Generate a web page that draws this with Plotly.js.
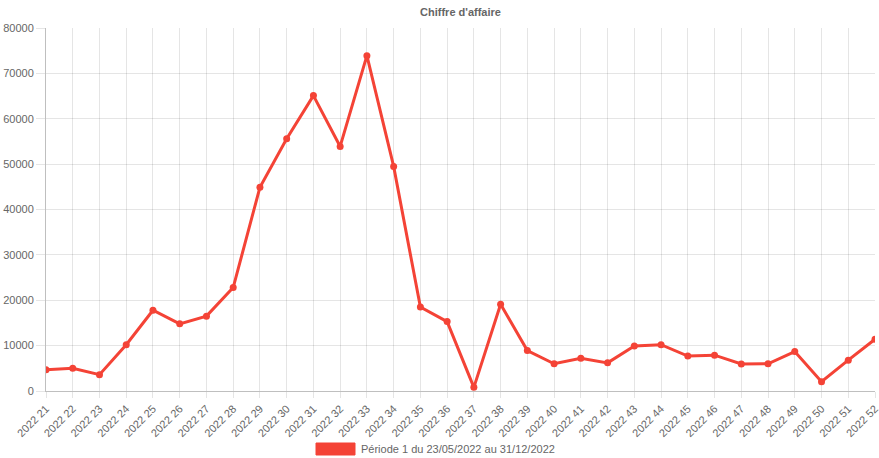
<!DOCTYPE html>
<html>
<head>
<meta charset="utf-8">
<script src="https://cdn.plot.ly/plotly-3.0.1.min.js"></script>
<style>html,body{margin:0;padding:0;background:#fff;}#chart{width:879px;height:458px;}</style>
</head>
<body>
<div id="chart"></div>
<script>
const weeks = ["2022 21","2022 22","2022 23","2022 24","2022 25","2022 26","2022 27","2022 28","2022 29","2022 30","2022 31","2022 32","2022 33","2022 34","2022 35","2022 36","2022 37","2022 38","2022 39","2022 40","2022 41","2022 42","2022 43","2022 44","2022 45","2022 46","2022 47","2022 48","2022 49","2022 50","2022 51","2022 52"];
const chiffreAffaire = [4700,5000,3600,10200,17800,14800,16500,22800,44900,55600,65100,53900,73900,49500,18500,15300,800,19100,8900,6000,7200,6200,9900,10200,7700,7900,5950,6000,8700,2050,6800,11400];
const seriesName = "Période 1 du 23/05/2022 au 31/12/2022";
const chartTitle = "Chiffre d'affaire";

const red = "rgb(244,67,54)";
const grey = "#666";
const fontFamily = "'Liberation Sans', Arial, Helvetica, sans-serif";

const trace = {
  x: weeks,
  y: chiffreAffaire,
  type: "scatter",
  mode: "lines+markers",
  name: seriesName,
  line: {color: red, width: 3},
  marker: {color: red, size: 7},
  showlegend: false,
  hoverinfo: "x+y"
};

const layout = {
  width: 879,
  height: 458,
  margin: {l: 46, r: 4, t: 28, b: 67},
  paper_bgcolor: "#fff",
  plot_bgcolor: "#fff",
  font: {family: fontFamily, size: 11, color: grey},
  title: {text: "<b>" + chartTitle + "</b>", x: 0.5, xref: "paper", y: 1 - 12/458, yanchor: "middle", font: {family: fontFamily, size: 11, color: grey}},
  xaxis: {
    type: "category",
    range: [0, weeks.length - 1],
    tickangle: -45,
    showgrid: true,
    gridcolor: "rgba(0,0,0,0.1)",
    ticks: "outside",
    ticklen: 6,
    tickcolor: "rgba(0,0,0,0.1)",
    showline: true,
    linecolor: "rgba(0,0,0,0.25)",
    linewidth: 1,
    tickfont: {size: 11, color: grey},
    fixedrange: true,
    zeroline: false
  },
  yaxis: {
    range: [0, 80000],
    dtick: 10000,
    tick0: 0,
    tickformat: "d",
    showgrid: true,
    gridcolor: "rgba(0,0,0,0.1)",
    ticks: "outside",
    ticklen: 9,
    tickcolor: "rgba(0,0,0,0.1)",
    showline: true,
    linecolor: "rgba(0,0,0,0.25)",
    linewidth: 1,
    zeroline: false,
    tickfont: {size: 11, color: grey},
    fixedrange: true
  },
  shapes: [{
    type: "rect", xref: "paper", yref: "paper",
    x0: (316 - 46) / 829, x1: (355 - 46) / 829,
    y0: -(455 - 391) / 363, y1: -(443 - 391) / 363,
    fillcolor: red, line: {color: red, width: 1}
  }],
  annotations: [{
    xref: "paper", yref: "paper",
    x: (359 - 46) / 829, y: -(449 - 391) / 363,
    xanchor: "left", yanchor: "middle",
    text: seriesName, showarrow: false,
    font: {family: fontFamily, size: 11, color: grey}
  }]
};

Plotly.newPlot("chart", [trace], layout, {displayModeBar: false, staticPlot: true});
</script>
</body>
</html>
